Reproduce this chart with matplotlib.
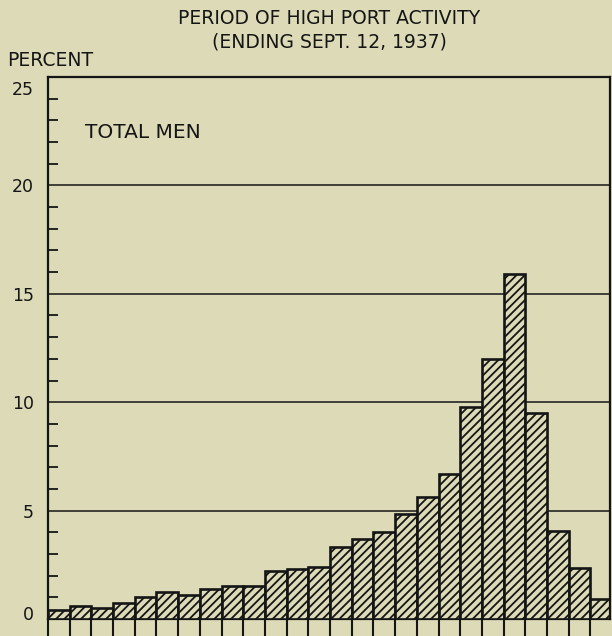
# import needed modules
import matplotlib
matplotlib.use("Agg")
import matplotlib.pyplot as plt
import matplotlib.transforms as mtransforms
import numpy as np

##############################################################################
####      DATA    ############################################################
##############################################################################

# percent of total men in each class interval (26 intervals)
percent_men = [0.4, 0.6, 0.5, 0.75, 1.0, 1.25, 1.1, 1.4, 1.5, 1.5,
               2.2, 2.3, 2.4, 3.3, 3.7, 4.0, 4.85, 5.65, 6.7, 9.8,
               12.0, 15.9, 9.5, 4.05, 2.35, 0.9]

y_ticks = [0, 5, 10, 15, 20, 25]
y_tick_labels = ["0", "5", "10", "15", "20", "25"]

title_lines = ["PERIOD OF HIGH PORT ACTIVITY", "(ENDING SEPT. 12, 1937)"]

##############################################################################
####      PLOTTING    ########################################################
##############################################################################

bg_color = "#dddab8"   # old paper beige
ink = "#151515"        # near black ink

plt.rcParams["font.family"] = ["DejaVu Sans"]
plt.rcParams["hatch.linewidth"] = 1.3
plt.rcParams["hatch.color"] = ink

fig = plt.figure(figsize=(6.12, 6.36), dpi=100, facecolor=bg_color)
ax = fig.add_axes([48 / 612, 17 / 636, 562 / 612, 542 / 636])
ax.set_facecolor(bg_color)

# bars sit on the edges of each interval
x_pos = np.arange(len(percent_men))
ax.bar(x_pos, percent_men, width=1.0, align="edge", color=bg_color,
       edgecolor=ink, linewidth=1.9, hatch="////", zorder=3, clip_on=True)

ax.set_xlim(0, 25.9)
ax.set_ylim(0, 25)

# horizontal rules at each 5 percent, small inward ticks at each percent
ax.set_yticks(y_ticks)
ax.set_yticklabels(y_tick_labels)
minor_y = [v for v in range(26) if v % 5 != 0]
ax.set_yticks(minor_y, minor=True)
ax.grid(axis="y", which="major", color=ink, linewidth=1.1, zorder=1)
ax.tick_params(axis="y", which="major", length=0, pad=10, labelsize=12.5,
               labelcolor=ink)
ax.tick_params(axis="y", which="minor", direction="in", length=7,
               width=1.3, color=ink)

# top label sits just under the frame line, bottom one a bit above the base
lbls = ax.get_yticklabels()
lbls[-1].set_transform(lbls[-1].get_transform() +
                       mtransforms.ScaledTranslation(0, -8 / 72, fig.dpi_scale_trans))
lbls[0].set_transform(lbls[0].get_transform() +
                      mtransforms.ScaledTranslation(0, 4 / 72, fig.dpi_scale_trans))

# x ticks hang down from the base line at every interval edge
ax.set_xticks(np.arange(0, 26, 1))
ax.set_xticklabels([])
ax.tick_params(axis="x", which="major", direction="out", length=13,
               width=1.5, color=ink)
ax.tick_params(axis="x", which="minor", length=0)

for side in ["left", "right", "top", "bottom"]:
    ax.spines[side].set_color(ink)
    ax.spines[side].set_linewidth(1.6)
ax.spines["right"].set_zorder(4)

# titles and labels
fig.text(329 / 612, 1 - 18.5 / 636, title_lines[0], ha="center", va="center",
         fontsize=13.5, color=ink)
fig.text(329 / 612, 1 - 42 / 636, title_lines[1], ha="center", va="center",
         fontsize=13.5, color=ink)
fig.text(7 / 612, 1 - 61 / 636, "PERCENT", ha="left", va="center",
         fontsize=13.5, color=ink)
ax.text(1.7, 22.45, "TOTAL MEN", ha="left", va="center", fontsize=14.5,
        color=ink)

fig.savefig("out.png", dpi=100, facecolor=bg_color)
